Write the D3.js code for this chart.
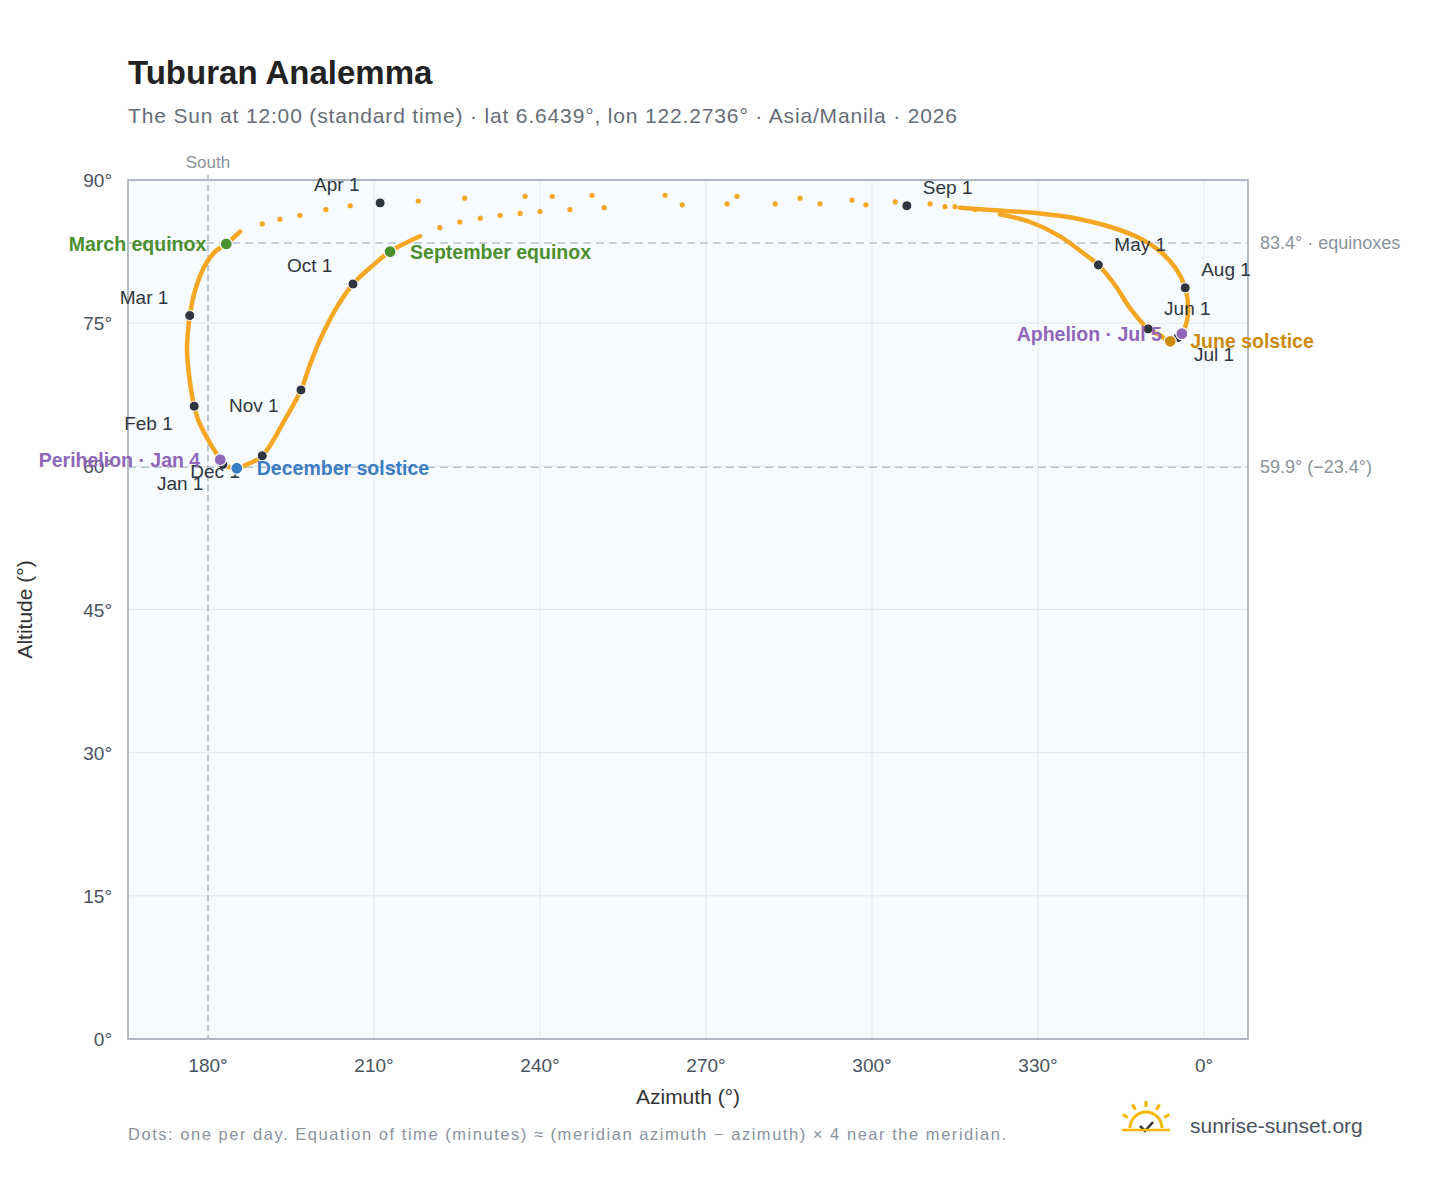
<!DOCTYPE html>
<html><head><meta charset="utf-8">
<script src="https://cdn.jsdelivr.net/npm/d3@7"></script>
<style>body{margin:0;background:#fff;font-family:"Liberation Sans",Arial,sans-serif}</style>
</head><body><svg id="chart" width="1448" height="1188"></svg>
<script>
// dense daily stretches (azimuth, altitude)
var leftPath = [[218.3,84.1],[212.9,82.5],[209.3,80.8],[206.2,79.1],[203.0,76.4],[200.2,73.2],[198.4,70.6],[196.8,68.0],[193.9,64.9],[189.8,61.1],[186.7,60.1],[185.2,59.8],[182.7,60.2],[182.2,60.7],[180.0,62.8],[178.2,64.9],[177.5,66.3],[176.7,69.0],[176.2,72.2],[176.4,74.3],[176.7,75.8],[177.7,78.5],[179.5,81.1],[181.3,82.5],[183.3,83.3],[185.8,84.6]];
var rightPath = [[323.1,86.4],[328.6,85.6],[334.0,84.1],[338.5,82.2],[340.9,81.1],[343.9,79.0],[346.6,76.6],[349.9,74.4],[352.1,73.7],[353.9,73.1],[355.3,73.5],[356.0,73.9],[357.1,75.9],[356.6,78.7],[354.8,80.8],[352.1,82.5],[348.4,83.9],[343.0,85.1],[336.7,86.0],[330.4,86.5],[323.1,86.8],[315.9,87.1]];
// sparse daily dots near the zenith
var sparseDots = [[189.8,85.4],[193.0,85.9],[196.6,86.3],[201.3,86.9],[205.7,87.3],[218.0,87.8],[226.4,88.1],[237.3,88.3],[242.2,88.3],[249.4,88.4],[251.6,87.1],[262.6,88.4],[265.7,87.4],[273.8,87.5],[275.6,88.3],[282.5,87.5],[287.0,88.1],[290.6,87.5],[296.4,87.9],[298.9,87.4],[304.2,87.7],[310.5,87.5],[313.2,87.2],[315.0,87.2],[318.6,86.9],[221.9,85.0],[225.5,85.6],[229.2,86.0],[232.8,86.3],[236.4,86.5],[240.0,86.7],[245.4,86.9]];
// month markers: name, az, alt, label dx, dy
var months = [["Jan 1",182.7,60.2,-66,26],["Feb 1",177.5,66.3,-70,24],["Mar 1",176.7,75.8,-70,-12],["Apr 1",211.1,87.6,-66,-12],["May 1",340.9,81.1,16,-14],["Jun 1",349.9,74.4,16,-14],["Jul 1",355.3,73.5,16,24],["Aug 1",356.6,78.7,16,-12],["Sep 1",306.3,87.3,16,-12],["Oct 1",206.2,79.1,-66,-12],["Nov 1",196.8,68.0,-72,22],["Dec 1",189.8,61.1,-72,22]];
var events = [["March equinox",183.3,83.3,"#4b8f2f","end",-20,7],["September equinox",212.9,82.5,"#4b8f2f","start",20,7],["Perihelion · Jan 4",182.2,60.7,"#8e67b8","end",-20,7],["December solstice",185.2,59.8,"#3b7dc4","start",20,7],["Aphelion · Jul 5",356.0,73.9,"#8e67b8","end",-20,7],["June solstice",353.9,73.1,"#c98b0c","start",20,7]];
var xTicks = [180,210,240,270,300,330,360];
var yTicks = [0,15,30,45,60,75,90];

var svg = d3.select("#chart");
var m = {l:128, r:1248, t:180, b:1039};
var x = d3.scaleLinear().domain([165.54,367.95]).range([m.l,m.r]);
var y = d3.scaleLinear().domain([0,90]).range([m.b,m.t]);

svg.append("rect").attr("x",m.l).attr("y",m.t).attr("width",m.r-m.l).attr("height",m.b-m.t).attr("fill","#f8fbfe");
svg.append("g").selectAll("line").data(xTicks).enter().append("line")
  .attr("x1",d=>x(d)).attr("x2",d=>x(d)).attr("y1",m.t).attr("y2",m.b).attr("stroke","#e3e8ee");
svg.append("g").selectAll("line").data(yTicks).enter().append("line")
  .attr("y1",d=>y(d)).attr("y2",d=>y(d)).attr("x1",m.l).attr("x2",m.r).attr("stroke","#e3e8ee");
svg.append("rect").attr("x",m.l).attr("y",m.t).attr("width",m.r-m.l).attr("height",m.b-m.t).attr("fill","none").attr("stroke","#9aa5b1").attr("stroke-width",1.5);

svg.append("g").selectAll("text").data(xTicks).enter().append("text")
  .attr("x",d=>x(d)).attr("y",m.b+33).attr("text-anchor","middle").attr("font-size",19).attr("fill","#4a5360")
  .text(d=>(d%360)+"°");
svg.append("g").selectAll("text").data(yTicks).enter().append("text")
  .attr("x",m.l-16).attr("y",d=>y(d)+7).attr("text-anchor","end").attr("font-size",19).attr("fill","#4a5360")
  .text(d=>d+"°");

// reference lines
svg.append("line").attr("x1",x(180)).attr("x2",x(180)).attr("y1",m.t-5).attr("y2",m.b).attr("stroke","#a9b8c8").attr("stroke-dasharray","6,4").attr("stroke-width",1.5);
svg.append("text").attr("x",x(180)).attr("y",m.t-12).attr("text-anchor","middle").attr("font-size",17).attr("fill","#8a939d").text("South");
[[83.4,"83.4° · equinoxes"],[59.9,"59.9° (−23.4°)"]].forEach(function(r){
  svg.append("line").attr("x1",m.l).attr("x2",m.r).attr("y1",y(r[0])).attr("y2",y(r[0])).attr("stroke","#b7c2cf").attr("stroke-dasharray","8,5").attr("stroke-width",1.5);
  svg.append("text").attr("x",m.r+12).attr("y",y(r[0])+6).attr("font-size",18).attr("fill","#8a939d").text(r[1]);
});

var line = d3.line().x(d=>x(d[0])).y(d=>y(d[1])).curve(d3.curveCatmullRom);
[leftPath,rightPath].forEach(function(p){
  svg.append("path").attr("d",line(p)).attr("fill","none").attr("stroke","#f5a623").attr("stroke-width",4.5).attr("stroke-linecap","round");
});
svg.append("g").selectAll("circle").data(sparseDots).enter().append("circle")
  .attr("cx",d=>x(d[0])).attr("cy",d=>y(d[1])).attr("r",2.6).attr("fill","#f5a623");

var mg = svg.append("g");
months.forEach(function(d){
  mg.append("circle").attr("cx",x(d[1])).attr("cy",y(d[2])).attr("r",5).attr("fill","#2f3640").attr("stroke","#fff").attr("stroke-width",1);
  mg.append("text").attr("x",x(d[1])+d[3]).attr("y",y(d[2])+d[4]).attr("font-size",19).attr("fill","#2f3640").text(d[0]);
});
events.forEach(function(d){
  mg.append("circle").attr("cx",x(d[1])).attr("cy",y(d[2])).attr("r",6).attr("fill",d[3]).attr("stroke","#fff").attr("stroke-width",1.2);
  mg.append("text").attr("x",x(d[1])+d[5]).attr("y",y(d[2])+d[6]).attr("text-anchor",d[4]).attr("font-size",19.5).attr("font-weight","bold").attr("fill",d[3]).text(d[0]);
});

svg.append("text").attr("x",128).attr("y",84).attr("font-size",33).attr("font-weight","bold").attr("fill","#222").text("Tuburan Analemma");
svg.append("text").attr("x",128).attr("y",123).attr("font-size",21).attr("fill","#666d76").attr("textLength",829).text("The Sun at 12:00 (standard time) · lat 6.6439°, lon 122.2736° · Asia/Manila · 2026");
svg.append("text").attr("x",(m.l+m.r)/2).attr("y",1104).attr("text-anchor","middle").attr("font-size",21).attr("fill","#333").text("Azimuth (°)");
svg.append("text").attr("transform","translate(32,"+((m.t+m.b)/2)+") rotate(-90)").attr("text-anchor","middle").attr("font-size",21).attr("fill","#333").text("Altitude (°)");
svg.append("text").attr("x",128).attr("y",1140).attr("font-size",16.5).attr("fill","#8a939d").attr("textLength",878).text("Dots: one per day. Equation of time (minutes) ≈ (meridian azimuth − azimuth) × 4 near the meridian.");

// logo
var lg = svg.append("g").attr("transform","translate(1146,1128)");
lg.append("path").attr("d","M-16,0 A16,16 0 0 1 16,0").attr("fill","none").attr("stroke","#f5b800").attr("stroke-width",3);
[-150,-120,-90,-60,-30].forEach(function(a){
  var r=a*Math.PI/180;
  lg.append("line").attr("x1",21*Math.cos(r)).attr("y1",21*Math.sin(r)).attr("x2",27*Math.cos(r)).attr("y2",27*Math.sin(r)).attr("stroke","#f5b800").attr("stroke-width",3);
});
lg.append("path").attr("d","M-6,-2 L-1,3 L7,-6").attr("fill","none").attr("stroke","#333").attr("stroke-width",2.5);
lg.append("line").attr("x1",-24).attr("x2",24).attr("y1",2).attr("y2",2).attr("stroke","#f5b800").attr("stroke-width",2.5);
svg.append("text").attr("x",1190).attr("y",1133).attr("font-size",21).attr("fill","#4a5360").text("sunrise-sunset.org");
</script></body></html>
